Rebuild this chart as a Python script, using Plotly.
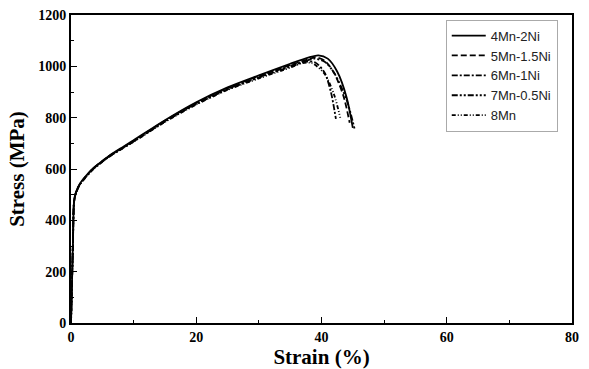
import plotly.graph_objects as go

series_names = ["4Mn-2Ni", "5Mn-1.5Ni", "6Mn-1Ni", "7Mn-0.5Ni", "8Mn"]

strain_4Mn2Ni = [0, 0.3, 0.5, 0.8, 1.4, 2.4, 3.5, 4.5, 6, 8.3, 10, 15, 20, 25, 30, 35, 38, 39.5, 41, 42.5, 44, 45.0]
stress_4Mn2Ni = [0, 300, 477, 510, 542, 573, 602, 622, 650, 686, 712, 790, 860, 918, 965, 1010, 1035, 1043, 1030, 980, 880, 760]

strain_5Mn15Ni = [0, 0.3, 0.5, 0.8, 1.4, 2.4, 3.5, 4.5, 6, 8.3, 10, 15, 20, 25, 30, 35, 38, 39.0, 40.5, 42, 43.5, 44.5]
stress_5Mn15Ni = [0, 300, 476, 509, 541, 572, 601, 621, 649, 684, 710, 788, 857, 915, 962, 1005, 1028, 1035, 1022, 975, 885, 780]

strain_6Mn1Ni = [0, 0.3, 0.5, 0.8, 1.4, 2.4, 3.5, 4.5, 6, 8.3, 10, 15, 20, 25, 30, 35, 37.5, 39, 40.5, 41.5, 42.3]
stress_6Mn1Ni = [0, 300, 474, 507, 539, 570, 599, 619, 647, 682, 707, 785, 853, 910, 956, 998, 1018, 1015, 975, 900, 795]

strain_7Mn05Ni = [0, 0.3, 0.5, 0.8, 1.4, 2.4, 3.5, 4.5, 6, 8.3, 10, 15, 20, 25, 30, 35, 38, 38.8, 40.5, 42, 44, 45.3]
stress_7Mn05Ni = [0, 300, 475, 508, 540, 571, 600, 620, 648, 683, 708, 786, 855, 912, 958, 1002, 1025, 1030, 1018, 975, 870, 755]

strain_8Mn = [0, 0.3, 0.5, 0.8, 1.4, 2.4, 3.5, 4.5, 6, 8.3, 10, 15, 20, 25, 30, 35, 37, 38.5, 40.5, 42, 43.0]
stress_8Mn = [0, 300, 473, 506, 538, 569, 598, 618, 646, 681, 706, 783, 851, 908, 953, 995, 1013, 1012, 970, 890, 800]

x_ticks = [0, 20, 40, 60, 80]
y_ticks = [0, 200, 400, 600, 800, 1000, 1200]

strains = [strain_4Mn2Ni, strain_5Mn15Ni, strain_6Mn1Ni, strain_7Mn05Ni, strain_8Mn]
stresses = [stress_4Mn2Ni, stress_5Mn15Ni, stress_6Mn1Ni, stress_7Mn05Ni, stress_8Mn]
dashes = ["solid", "6px,3px", "6px,2px,2px,2px", "6px,2px,2px,2px,2px,2px", "4px,2px,1px,2px,1px,2px"]

fig = go.Figure()
for name, xs, ys, d in zip(series_names, strains, stresses, dashes):
    fig.add_trace(go.Scatter(
        x=xs, y=ys, mode="lines", name=name,
        line=dict(color="black", width=1.8, dash=d, shape="spline", smoothing=0.8),
    ))

tickfont = dict(family="Liberation Serif", size=14, color="black", weight="bold")
fig.update_layout(
    width=589, height=369,
    margin=dict(l=71, r=17, t=8, b=43),
    plot_bgcolor="white", paper_bgcolor="white",
    showlegend=True,
    legend=dict(
        x=0.748, y=0.985, xanchor="left", yanchor="top",
        bordercolor="#aaaaaa", borderwidth=1, bgcolor="white",
        font=dict(family="Liberation Sans", size=13, color="#222222"),
        tracegroupgap=0, itemwidth=34,
    ),
    xaxis=dict(
        range=[0, 80], tickvals=x_ticks,
        ticks="inside", ticklen=6, tickwidth=1, tickcolor="black",
        minor=dict(dtick=10, ticks="inside", ticklen=3, tickcolor="black"),
        showline=True, linecolor="black", linewidth=2, mirror=True,
        showgrid=False, zeroline=False,
        tickfont=tickfont,
        title=dict(text="Strain (%)", font=dict(family="Liberation Serif", size=21, color="black", weight="bold"), standoff=2),
    ),
    yaxis=dict(
        range=[0, 1200], tickvals=y_ticks,
        ticks="inside", ticklen=6, tickwidth=1, tickcolor="black",
        minor=dict(dtick=100, ticks="inside", ticklen=3, tickcolor="black"),
        showline=True, linecolor="black", linewidth=2, mirror=True,
        showgrid=False, zeroline=False,
        tickfont=tickfont,
        title=dict(text="Stress (MPa)", font=dict(family="Liberation Serif", size=21, color="black", weight="bold"), standoff=8),
    ),
)

fig.write_html("out.html")
